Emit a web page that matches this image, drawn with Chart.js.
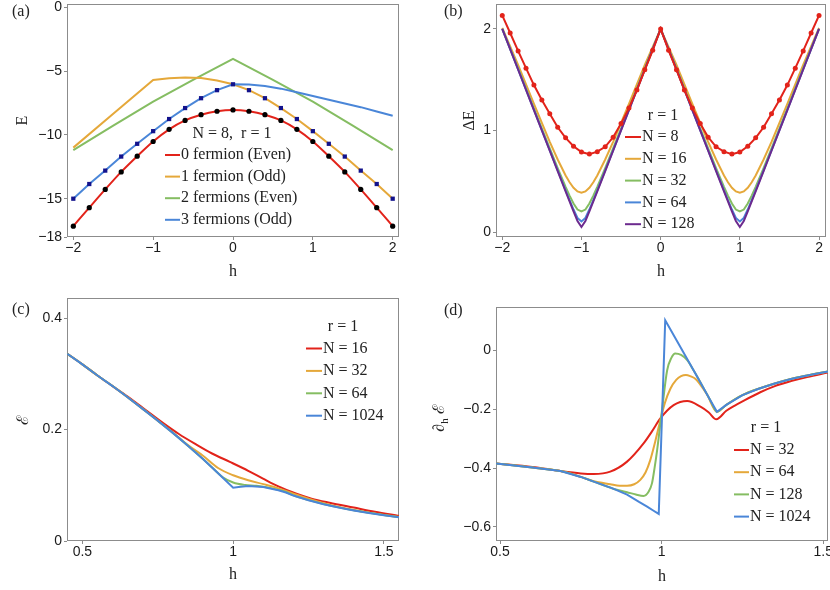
<!DOCTYPE html>
<html>
<head>
<meta charset="utf-8">
<script src="https://cdn.jsdelivr.net/npm/chart.js@4.4.0/dist/chart.umd.min.js"></script>
<style>
  html, body { margin: 0; padding: 0; background: #fff; overflow: hidden; width: 830px; height: 590px; }
  canvas { position: absolute; }
</style>
</head>
<body>
<canvas id="ca" width="415" height="295" style="left:0;top:0"></canvas>
<canvas id="cb" width="415" height="295" style="left:415px;top:0"></canvas>
<canvas id="cc" width="415" height="295" style="left:0;top:295px"></canvas>
<canvas id="cd" width="430" height="295" style="left:415px;top:295px"></canvas>
<script>
// ---- (a) low-lying levels, N = 8, r = 1
const hA = [-2, -1.8, -1.6, -1.4, -1.2, -1, -0.8, -0.6, -0.4, -0.2, 0, 0.2, 0.4, 0.6, 0.8, 1, 1.2, 1.4, 1.6, 1.8, 2];
const zeroFermion = [-17.15, -15.7, -14.27, -12.9, -11.67, -10.52, -9.57, -8.87, -8.42, -8.15, -8.05, -8.15, -8.42, -8.87, -9.57, -10.52, -11.67, -12.9, -14.27, -15.7, -17.15];
const oddGroundDots = [-15, -13.85, -12.8, -11.7, -10.7, -9.71, -8.76, -7.9, -7.13, -6.5, -6.04, -6.5, -7.13, -7.9, -8.76, -9.71, -10.7, -11.7, -12.8, -13.85, -15];
const hA1 = [-2, -1.5, -1, -0.8, -0.6, -0.4, -0.2, 0, 0.2, 0.4, 0.6, 0.8, 1, 1.2, 1.4, 1.6, 1.8, 2];
const oneFermion = [-11.0, -8.35, -5.7, -5.56, -5.5, -5.55, -5.75, -6.04, -6.5, -7.13, -7.9, -8.76, -9.71, -10.7, -11.7, -12.8, -13.85, -15];
const hA2 = [-2, -1.5, -1, -0.5, 0, 0.5, 1, 1.5, 2];
const twoFermions = [-11.2, -9.28, -7.4, -5.7, -4.04, -5.7, -7.4, -9.28, -11.2];
const threeFermions = [-15, -13.85, -12.8, -11.7, -10.7, -9.71, -8.76, -7.9, -7.13, -6.5, -6.04, -6.06, -6.18, -6.38, -6.66, -6.96, -7.25, -7.54, -7.83, -8.17, -8.5];

// ---- (b) gap, r = 1
const hB8 = [-2, -1.9, -1.8, -1.7, -1.6, -1.5, -1.4, -1.3, -1.2, -1.1, -1, -0.9, -0.8, -0.7, -0.6, -0.5, -0.4, -0.3, -0.2, -0.1, 0,
             0.1, 0.2, 0.3, 0.4, 0.5, 0.6, 0.7, 0.8, 0.9, 1, 1.1, 1.2, 1.3, 1.4, 1.5, 1.6, 1.7, 1.8, 1.9, 2];
const gapN8 = [2.133, 1.96, 1.784, 1.614, 1.448, 1.301, 1.167, 1.033, 0.929, 0.847, 0.789, 0.769, 0.793, 0.841, 0.935, 1.069, 1.223, 1.399, 1.598, 1.79, 2.0,
               1.79, 1.598, 1.399, 1.223, 1.069, 0.935, 0.841, 0.793, 0.769, 0.789, 0.847, 0.929, 1.033, 1.167, 1.301, 1.448, 1.614, 1.784, 1.96, 2.133];
const hB = [-2, -1.8, -1.6, -1.4, -1.3, -1.2, -1.15, -1.1, -1.05, -1, -0.95, -0.9, -0.85, -0.8, -0.7, -0.6, -0.4, -0.2, 0,
            0.2, 0.4, 0.6, 0.7, 0.8, 0.85, 0.9, 0.95, 1, 1.05, 1.1, 1.15, 1.2, 1.3, 1.4, 1.6, 1.8, 2];
const gapN16 = [2.01, 1.647, 1.262, 0.89, 0.716, 0.559, 0.492, 0.438, 0.402, 0.39, 0.402, 0.438, 0.492, 0.559, 0.716, 0.89, 1.262, 1.647, 2.0,
                1.647, 1.262, 0.89, 0.716, 0.559, 0.492, 0.438, 0.402, 0.39, 0.402, 0.438, 0.492, 0.559, 0.716, 0.89, 1.262, 1.647, 2.01];
const gapN32 = [2.0, 1.612, 1.217, 0.825, 0.632, 0.447, 0.361, 0.283, 0.224, 0.205, 0.224, 0.283, 0.361, 0.447, 0.632, 0.825, 1.217, 1.612, 2.0,
                1.612, 1.217, 0.825, 0.632, 0.447, 0.361, 0.283, 0.224, 0.205, 0.224, 0.283, 0.361, 0.447, 0.632, 0.825, 1.217, 1.612, 2.0];
const gapN64 = [2.0, 1.603, 1.204, 0.806, 0.608, 0.412, 0.316, 0.224, 0.141, 0.107, 0.141, 0.224, 0.316, 0.412, 0.608, 0.806, 1.204, 1.603, 2.0,
                1.603, 1.204, 0.806, 0.608, 0.412, 0.316, 0.224, 0.141, 0.107, 0.141, 0.224, 0.316, 0.412, 0.608, 0.806, 1.204, 1.603, 2.0];
const gapN128 = [2.0, 1.601, 1.201, 0.802, 0.602, 0.403, 0.304, 0.206, 0.112, 0.052, 0.112, 0.206, 0.304, 0.403, 0.602, 0.802, 1.201, 1.601, 2.0,
                 1.601, 1.201, 0.802, 0.602, 0.403, 0.304, 0.206, 0.112, 0.052, 0.112, 0.206, 0.304, 0.403, 0.602, 0.802, 1.201, 1.601, 2.0];

// ---- (c) epsilon, r = 1
const hC16 = [0.45, 0.5, 0.55, 0.6, 0.65, 0.7, 0.768, 0.82, 0.878, 0.93, 0.989, 1.05, 1.099, 1.15, 1.21, 1.26, 1.32, 1.4, 1.47, 1.55];
const epsN16 = [0.336, 0.317, 0.297, 0.278, 0.259, 0.239, 0.2115, 0.192, 0.173, 0.157, 0.142, 0.126, 0.112, 0.098, 0.0847, 0.076, 0.0686, 0.06, 0.0525, 0.045];
const hC32 = [0.45, 0.5, 0.55, 0.6, 0.65, 0.7, 0.75, 0.8, 0.85, 0.9, 0.95, 1.0, 1.05, 1.1, 1.15, 1.2, 1.25, 1.3, 1.35, 1.4, 1.45, 1.5, 1.55];
const epsN32 = [0.336, 0.317, 0.297, 0.278, 0.258, 0.237, 0.216, 0.1948, 0.172, 0.153, 0.131, 0.118, 0.109, 0.102, 0.0945, 0.085, 0.076, 0.068, 0.0612, 0.0556, 0.0509, 0.0468, 0.0431];
const hC64 = [0.45, 0.5, 0.55, 0.6, 0.65, 0.7, 0.75, 0.8, 0.85, 0.9, 0.934, 0.967, 1.0, 1.04, 1.077, 1.133, 1.175, 1.2, 1.25, 1.3, 1.35, 1.4, 1.45, 1.5, 1.55];
const epsN64 = [0.336, 0.317, 0.297, 0.278, 0.258, 0.237, 0.216, 0.194, 0.171, 0.147, 0.13, 0.114, 0.105, 0.1005, 0.099, 0.094, 0.088, 0.0818, 0.0733, 0.0663, 0.0603, 0.0551, 0.0505, 0.0465, 0.0429];
const hC1024 = [0.45, 0.5, 0.55, 0.6, 0.65, 0.7, 0.75, 0.8, 0.85, 0.9, 0.95, 1.0, 1.025, 1.05, 1.1, 1.15, 1.175, 1.2, 1.25, 1.3, 1.35, 1.4, 1.45, 1.5, 1.55];
const epsN1024 = [0.336, 0.317, 0.297, 0.278, 0.258, 0.237, 0.216, 0.194, 0.171, 0.147, 0.1215, 0.0955, 0.0975, 0.0985, 0.097, 0.091, 0.087, 0.0815, 0.0731, 0.0661, 0.0601, 0.0549, 0.0503, 0.0463, 0.0427];

// ---- (d) d(epsilon)/dh, r = 1
const hD32 = [0.488, 0.6, 0.687, 0.75, 0.79, 0.841, 0.893, 0.944, 0.97, 0.996, 1.037, 1.079, 1.12, 1.145, 1.169, 1.2, 1.225, 1.25, 1.305, 1.35, 1.4, 1.45, 1.515];
const dEpsN32 = [-0.384, -0.396, -0.41, -0.418, -0.42, -0.412, -0.378, -0.316, -0.275, -0.231, -0.186, -0.172, -0.191, -0.21, -0.234, -0.205, -0.188, -0.173, -0.142, -0.121, -0.104, -0.09, -0.075];
const hD64 = [0.488, 0.6, 0.687, 0.75, 0.79, 0.841, 0.87, 0.893, 0.915, 0.934, 0.95, 0.965, 0.98, 0.996, 1.01, 1.027, 1.045, 1.06, 1.075, 1.09, 1.105, 1.12, 1.14, 1.171, 1.2, 1.25, 1.3, 1.35, 1.4, 1.45, 1.515];
const dEpsN64 = [-0.384, -0.398, -0.41, -0.43, -0.445, -0.455, -0.46, -0.46, -0.455, -0.44, -0.415, -0.372, -0.31, -0.237, -0.178, -0.13, -0.1, -0.087, -0.083, -0.088, -0.097, -0.117, -0.149, -0.2085, -0.185, -0.152, -0.13, -0.112, -0.097, -0.085, -0.071];
const hD128 = [0.488, 0.6, 0.687, 0.75, 0.79, 0.85, 0.893, 0.92, 0.944, 0.96, 0.97, 0.978, 0.986, 1.001, 1.017, 1.03, 1.042, 1.06, 1.079, 1.1, 1.15, 1.171, 1.2, 1.25, 1.3, 1.35, 1.4, 1.45, 1.515];
const dEpsN128 = [-0.384, -0.398, -0.41, -0.43, -0.446, -0.47, -0.482, -0.49, -0.495, -0.48, -0.452, -0.4, -0.339, -0.203, -0.067, -0.025, -0.01, -0.015, -0.033, -0.07, -0.168, -0.2085, -0.185, -0.152, -0.13, -0.112, -0.097, -0.085, -0.071];
const hD1024 = [0.488, 0.55, 0.6, 0.687, 0.75, 0.79, 0.85, 0.893, 0.93, 0.955, 0.975, 0.991, 1.011, 1.05, 1.1, 1.15, 1.171, 1.2, 1.25, 1.3, 1.35, 1.4, 1.45, 1.515];
const dEpsN1024 = [-0.384, -0.392, -0.398, -0.41, -0.43, -0.446, -0.47, -0.49, -0.515, -0.531, -0.545, -0.556, 0.103, 0.027, -0.07, -0.168, -0.2085, -0.185, -0.152, -0.13, -0.112, -0.097, -0.085, -0.071];

const RED = '#e2231a', ORANGE = '#e5a83a', GREEN = '#85bd62', BLUE = '#4a86d8', PURPLE = '#6c2a8e';
const SERIF = "'Liberation Serif', 'DejaVu Serif', serif";
const TICK_FONT = { family: "'Liberation Sans', Arial, sans-serif", size: 14 };

function fmt(v) {
  const r = Math.round(v * 100) / 100;
  return (r < 0 ? '\u2212' : '') + String(Math.abs(r));
}

function pts(xs, ys) { return xs.map((x, i) => ({ x: x, y: ys[i] })); }

// smooth = monotone cubic through the read points, otherwise straight segments (keeps the kinks sharp)
function line(xs, ys, color, order, smooth) {
  const ds = { data: pts(xs, ys), borderColor: color, borderWidth: 2, pointRadius: 0, fill: false, tension: 0, order: order };
  if (smooth) ds.cubicInterpolationMode = 'monotone';
  return ds;
}

function marks(xs, ys, color, style, r, order) {
  return { data: pts(xs, ys), showLine: false, pointStyle: style, pointRadius: r,
           pointBackgroundColor: color, pointBorderColor: color, pointBorderWidth: 0, borderColor: color, order: order };
}

function scale(min, max, tickVals, size, isX, title, titlePad) {
  return {
    type: 'linear', min: min, max: max,
    afterBuildTicks: s => { s.ticks = tickVals.map(v => ({ value: v })); },
    afterFit: s => {
      if (isX) { s.height = size; s.paddingLeft = 0; s.paddingRight = 0; }
      else { s.width = size; s.paddingTop = 0; s.paddingBottom = 0; }
    },
    grid: { display: true, drawOnChartArea: false, drawTicks: true, tickLength: 3, color: '#8c8c8c', lineWidth: 1 },
    border: { display: false },
    ticks: { font: TICK_FONT, color: '#1a1a1a', padding: isX ? 0 : 2, maxRotation: 0, autoSkip: false, callback: v => fmt(v) },
    title: title ? { display: true, text: title, color: '#222', font: { family: SERIF, size: 16, lineHeight: 1 },
                     padding: isX ? { top: 0, bottom: titlePad } : { top: titlePad, bottom: 0 } } : { display: false }
  };
}

// frame, inset legend, panel tag and optional composed y title
const panelDecor = {
  id: 'panelDecor',
  beforeDatasetsDraw(chart) {
    const { ctx, chartArea: a } = chart;
    ctx.save();
    ctx.strokeStyle = '#8c8c8c';
    ctx.lineWidth = 1;
    ctx.strokeRect(Math.round(a.left) + 0.5, Math.round(a.top) + 0.5, Math.round(a.right - a.left) - 1, Math.round(a.bottom - a.top) - 1);
    ctx.restore();
  },
  afterDraw(chart, args, o) {
    const ctx = chart.ctx;
    ctx.save();
    ctx.font = '16px ' + SERIF;
    ctx.fillStyle = '#222';
    ctx.textBaseline = 'middle';
    if (o.tag) { ctx.textAlign = 'left'; ctx.fillText(o.tag[0], o.tag[1], o.tag[2]); }
    const lg = o.legend;
    if (lg) {
      ctx.textAlign = 'center';
      ctx.fillText(lg.title, lg.titleX, lg.titleY);
      ctx.textAlign = 'left';
      lg.items.forEach((it, i) => {
        const y = lg.y0 + i * lg.dy;
        ctx.strokeStyle = it[1];
        ctx.lineWidth = 2;
        ctx.beginPath();
        ctx.moveTo(lg.x0, y);
        ctx.lineTo(lg.x0 + lg.len, y);
        ctx.stroke();
        ctx.fillStyle = '#222';
        ctx.fillText(it[0], lg.x0 + lg.len + 1, y);
      });
    }
    if (o.yTitle) {
      const t = o.yTitle;
      ctx.translate(t.x, t.y);
      ctx.rotate(-Math.PI / 2);
      ctx.textBaseline = 'alphabetic';
      ctx.textAlign = 'left';
      ctx.font = '16px ' + SERIF;
      const w1 = ctx.measureText(t.main).width;
      const w3 = ctx.measureText(t.rest).width;
      ctx.font = '11px ' + SERIF;
      const w2 = ctx.measureText(t.sub).width;
      let x = -(w1 + w2 + w3) / 2;
      ctx.font = '16px ' + SERIF;
      ctx.fillText(t.main, x, 5);
      x += w1;
      ctx.font = '11px ' + SERIF;
      ctx.fillText(t.sub, x, 9);
      x += w2;
      ctx.font = '16px ' + SERIF;
      ctx.fillText(t.rest, x, 5);
    }
    ctx.restore();
  }
};

function makeChart(id, datasets, pad, xs, ys, decor) {
  new Chart(document.getElementById(id), {
    type: 'line',
    data: { datasets: datasets },
    options: {
      responsive: false,
      animation: false,
      devicePixelRatio: 1,
      layout: { padding: pad },
      plugins: { legend: { display: false }, tooltip: { enabled: false }, panelDecor: decor },
      scales: { x: xs, y: ys }
    },
    plugins: [panelDecor]
  });
}

// (a)
makeChart('ca', [
  marks(hA, zeroFermion, '#000', 'circle', 2.6, 0),
  marks(hA, oddGroundDots, '#12128c', 'rect', 3, 0),
  line(hA, zeroFermion, RED, 1, true),
  line(hA1, oneFermion, ORANGE, 3, false),
  line(hA2, twoFermions, GREEN, 4, false),
  line(hA, threeFermions, BLUE, 2, false)
], { left: 0, top: 3, right: 16, bottom: 0 },
  scale(-2.079, 2.079, [-2, -1, 0, 1, 2], 58, true, 'h', 15.3),
  scale(-18, 0.25, [0, -5, -10, -15, -18], 67, false, 'E', 15),
  { tag: ['(a)', 12, 12],
    legend: { title: 'N = 8,  r = 1', titleX: 232, titleY: 134, x0: 165, len: 15, y0: 155, dy: 21.6,
              items: [['0 fermion (Even)', RED], ['1 fermion (Odd)', ORANGE], ['2 fermions (Even)', GREEN], ['3 fermions (Odd)', BLUE]] } });

// (b)
makeChart('cb', [
  marks(hB8, gapN8, RED, 'circle', 2.5, 0),
  line(hB8, gapN8, RED, 1, false),
  line(hB, gapN128, PURPLE, 2, false),
  line(hB, gapN64, BLUE, 3, false),
  line(hB, gapN32, GREEN, 4, false),
  line(hB, gapN16, ORANGE, 5, false)
], { left: 0, top: 3, right: 2, bottom: 0 },
  scale(-2.079, 2.088, [-2, -1, 0, 1, 2], 58, true, 'h', 15.3),
  scale(-0.046, 2.245, [0, 1, 2], 81, false, '\u0394E', 47),
  { tag: ['(b)', 29, 12],
    legend: { title: 'r = 1', titleX: 248, titleY: 116, x0: 210, len: 16, y0: 137, dy: 21.8,
              items: [['N = 8', RED], ['N = 16', ORANGE], ['N = 32', GREEN], ['N = 64', BLUE], ['N = 128', PURPLE]] } });

// (c)
makeChart('cc', [
  line(hC1024, epsN1024, BLUE, 1, false),
  line(hC64, epsN64, GREEN, 2, true),
  line(hC32, epsN32, ORANGE, 3, true),
  line(hC16, epsN16, RED, 4, true)
], { left: 0, top: 3, right: 16, bottom: 0 },
  scale(0.449, 1.55, [0.5, 1, 1.5], 49, true, 'h', 7),
  scale(0, 0.436, [0, 0.2, 0.4], 67, false, '\u2130', 16),
  { tag: ['(c)', 12, 15],
    legend: { title: 'r = 1', titleX: 343, titleY: 32, x0: 306, len: 16, y0: 53.5, dy: 22.4,
              items: [['N = 16', RED], ['N = 32', ORANGE], ['N = 64', GREEN], ['N = 1024', BLUE]] } });

// (d)
makeChart('cd', [
  line(hD1024, dEpsN1024, BLUE, 1, false),
  line(hD128, dEpsN128, GREEN, 2, true),
  line(hD64, dEpsN64, ORANGE, 3, true),
  line(hD32, dEpsN32, RED, 4, true)
], { left: 0, top: 12, right: 17, bottom: 0 },
  scale(0.4876, 1.5145, [0.5, 1, 1.5], 49, true, 'h', 5.3),
  scale(-0.648, 0.148, [0, -0.2, -0.4, -0.6], 81, false, null, 0),
  { tag: ['(d)', 29, 16],
    yTitle: { x: 24, y: 123, main: '\u2202', sub: 'h', rest: ' \u2130' },
    legend: { title: 'r = 1', titleX: 351, titleY: 133, x0: 319, len: 15, y0: 155, dy: 22.2,
              items: [['N = 32', RED], ['N = 64', ORANGE], ['N = 128', GREEN], ['N = 1024', BLUE]] } });
</script>
</body>
</html>
